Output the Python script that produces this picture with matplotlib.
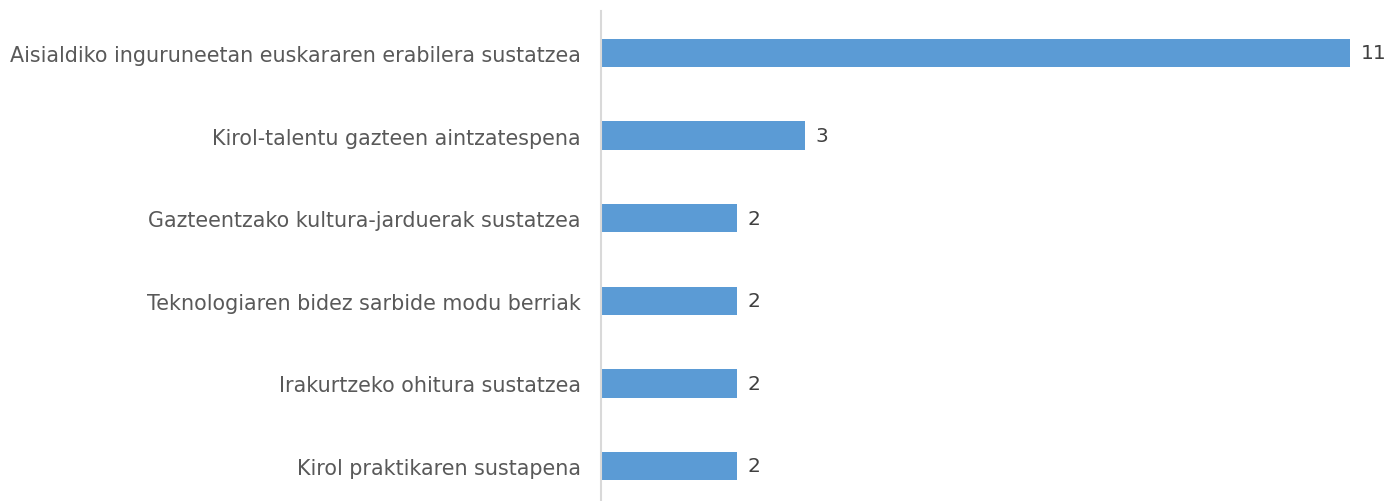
import matplotlib
matplotlib.use('Agg')
import matplotlib.pyplot as plt

categories = [
    'Aisialdiko inguruneetan euskararen erabilera sustatzea',
    'Kirol-talentu gazteen aintzatespena',
    'Gazteentzako kultura-jarduerak sustatzea',
    'Teknologiaren bidez sarbide modu berriak',
    'Irakurtzeko ohitura sustatzea',
    'Kirol praktikaren sustapena',
]
values = [11, 3, 2, 2, 2, 2]

W, H = 1391, 502
fig = plt.figure(figsize=(W / 100, H / 100), dpi=100)
# axes: left edge at category axis (x=601px), top at 12px
ax = fig.add_axes([601 / W, 0, (W - 601) / W, (H - 12) / H])

pos = list(range(len(categories)))
ax.barh(pos, values, height=0.345, color='#5B9BD5')
for p, v in zip(pos, values):
    ax.text(v + 0.15, p, str(v), va='center', ha='left', fontsize=14.5, color='#404040')

ax.set_xlim(0, (W - 601) / 68.1)
ax.set_ylim(5.424, -0.508)
ax.set_yticks(pos)
ax.set_yticklabels(categories, fontsize=14.9, color='#595959')
ax.tick_params(axis='y', length=0, pad=14.4)
ax.set_xticks([])
for s in ['top', 'right', 'bottom']:
    ax.spines[s].set_visible(False)
ax.spines['left'].set_color('#D9D9D9')
ax.spines['left'].set_linewidth(1.5)

fig.savefig('out.png', dpi=100)
